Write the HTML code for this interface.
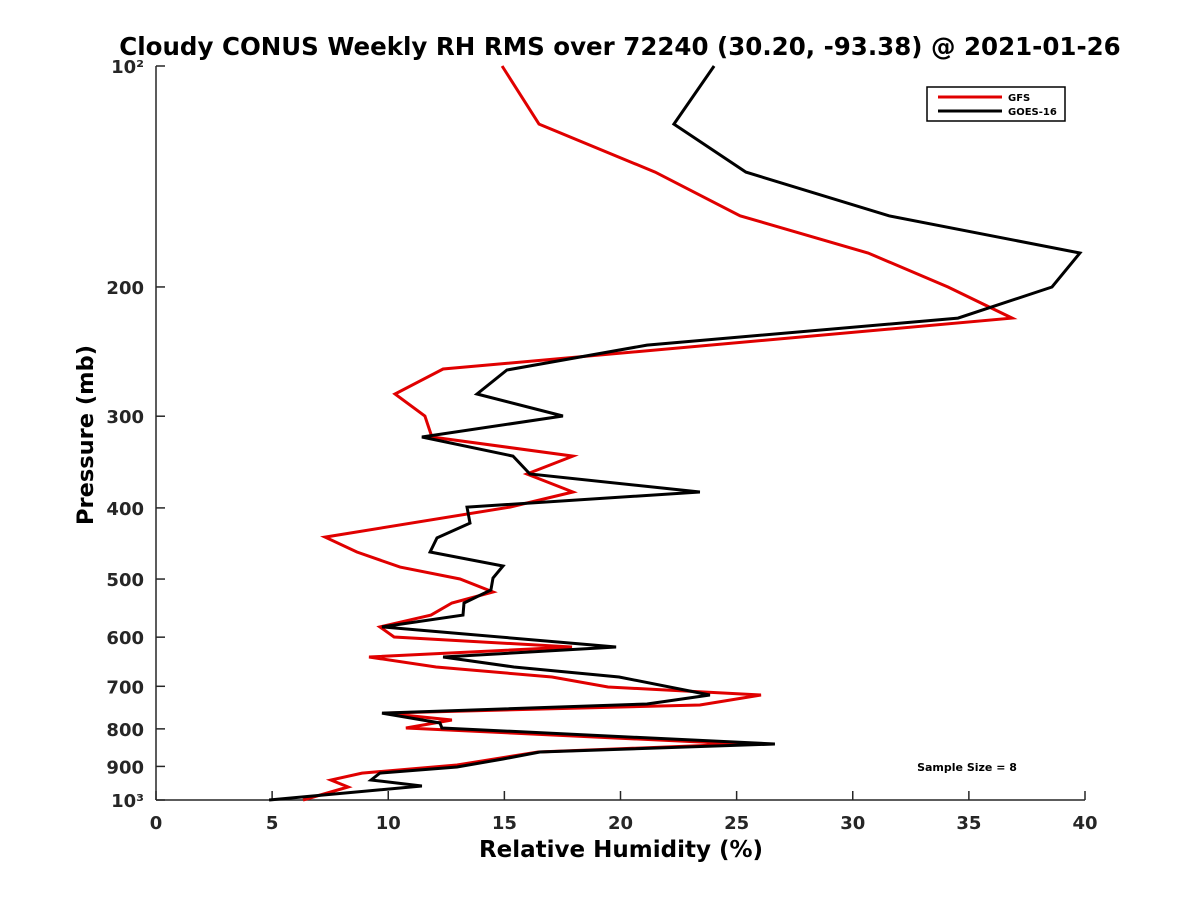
<!DOCTYPE html>
<html><head><meta charset="utf-8"><style>
body{margin:0;background:#fff;}
svg{display:block;font-family:"DejaVu Sans","Liberation Sans",sans-serif;}
</style></head><body>
<svg id="chart" width="1200" height="900">
<text x="620" y="55" text-anchor="middle" font-size="24.5" font-weight="bold">Cloudy CONUS Weekly RH RMS over 72240 (30.20, -93.38) @ 2021-01-26</text>
<g id="axes"></g>
<g id="series"></g>
<text transform="translate(93,435) rotate(-90)" text-anchor="middle" font-size="22.5" font-weight="bold">Pressure (mb)</text>
<text x="621" y="857" text-anchor="middle" font-size="23" font-weight="bold">Relative Humidity (%)</text>
<g>
<rect x="927" y="87" width="138" height="34" fill="#fff" stroke="#000" stroke-width="1.5"/>
<line x1="938" y1="97" x2="1002" y2="97" stroke="#e00000" stroke-width="3"/>
<text x="1008" y="101" font-size="10" font-weight="bold">GFS</text>
<line x1="938" y1="111" x2="1002" y2="111" stroke="#000" stroke-width="3"/>
<text x="1008" y="115" font-size="10" font-weight="bold">GOES-16</text>
</g>
<text x="967" y="771" text-anchor="middle" font-size="11" font-weight="bold">Sample Size = 8</text>
</svg>
<script>
const xTicks=[0,5,10,15,20,25,30,35,40];
const yTicks=[100,200,300,400,500,600,700,800,900,1000];
const yTickLabels=["10²","200","300","400","500","600","700","800","900","10³"];
const gfsRH=[14.90,16.49,21.49,25.15,30.66,34.10,36.86,12.36,10.29,11.58,11.88,17.95,15.97,17.95,15.24,7.28,8.65,10.51,13.09,14.51,12.74,11.84,9.64,10.25,17.91,9.17,12.06,17.05,19.46,26.05,23.42,9.82,12.74,10.76,25.23,16.45,12.96,8.87,7.53,8.27,6.33];
const gfsP=[100,120,139.5,160,179.8,200,220.5,258.7,279.8,299.8,320.2,340,359.6,380.5,399,438.3,459.4,481.6,500,520.8,539,559.8,581,599.7,618.8,638.5,658.9,679.9,701.5,719.4,742.4,761.3,778,797.8,839,860.3,896,919,939.3,960,1000];
const goesRH=[24.03,22.30,25.40,31.56,39.78,38.58,34.53,21.14,15.11,13.82,17.52,11.45,15.37,16.10,23.42,13.39,13.52,12.10,11.80,14.94,14.51,14.42,13.26,13.22,9.73,19.81,12.36,15.41,19.94,23.85,21.14,9.73,12.23,12.31,26.65,16.53,14.94,12.96,9.64,9.26,11.45,4.87];
const goesP=[100,120,139.5,160,179.8,200,220.5,240,259.5,279.8,299.8,320.2,340,359.6,380.5,399,419.5,439.5,459.4,480,498.4,517.5,539,559.8,581,618.8,638.5,658.9,679.9,719.4,740,761.3,785.5,797.8,839,860.3,879.4,901.6,919,939.3,957,1000];

const L=156,R=1085,T=66,B=800;
const xs=v=>L+(v-0)/(40-0)*(R-L);
const ys=p=>T+(Math.log10(p)-2)*(B-T);
const NS="http://www.w3.org/2000/svg";
function mk(tag,attrs,parent){const e=document.createElementNS(NS,tag);for(const k in attrs)e.setAttribute(k,attrs[k]);parent.appendChild(e);return e;}
const ax=document.getElementById('axes');
const xl=mk('line',{x1:L,y1:B,x2:R,y2:B,stroke:'#262626','stroke-width':1.5},ax);


const yl=mk('line',{x1:L,y1:T,x2:L,y2:B,stroke:'#262626','stroke-width':1.5},ax);


xTicks.forEach(v=>{
  const tk=mk('line',{x1:xs(v),y1:B,x2:xs(v),y2:B-9,stroke:'#262626','stroke-width':1.5},ax);
  
  
  const t=mk('text',{x:xs(v),y:B+29,'text-anchor':'middle','font-size':18,'font-weight':'bold',fill:'#262626'},ax);
  t.textContent=v;
  
  
});
yTicks.forEach((p,i)=>{
  const tk=mk('line',{x1:L,y1:ys(p),x2:L+9,y2:ys(p),stroke:'#262626','stroke-width':1.5},ax);
  
  
  const t=mk('text',{x:L-12,y:ys(p)+7,'text-anchor':'end','font-size':18,'font-weight':'bold',fill:'#262626'},ax);
  t.textContent=yTickLabels[i];
  
  
});
const sg=document.getElementById('series');
function line(rh,p,color,name){
  const pts=rh.map((v,i)=>xs(v).toFixed(1)+','+ys(p[i]).toFixed(1)).join(' ');
  const pl=mk('polyline',{points:pts,fill:'none',stroke:color,'stroke-width':3,'stroke-linejoin':'miter'},sg);
  
  
}
line(gfsRH,gfsP,'#e00000','gfs-line');
line(goesRH,goesP,'#000','goes16-line');
</script>
</body></html>
